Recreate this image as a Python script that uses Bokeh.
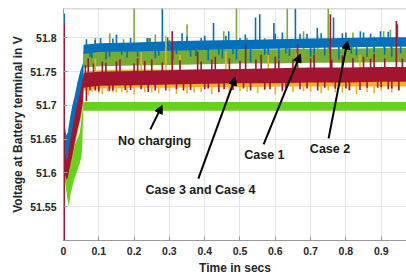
from bokeh.plotting import figure
from bokeh.models import Range1d, Span, Arrow, NormalHead, Label, FixedTicker
from bokeh.embed import file_html
from bokeh.resources import INLINE
import numpy as np

# ---------------- data ----------------
x_ticks = [0, 0.1, 0.2, 0.3, 0.4, 0.5, 0.6, 0.7, 0.8, 0.9]
x_tick_labels = ["0", "0.1", "0.2", "0.3", "0.4", "0.5", "0.6", "0.7", "0.8", "0.9"]
y_ticks = [51.55, 51.6, 51.65, 51.7, 51.75, 51.8]
y_tick_labels = ["51.55", "51.6", "51.65", "51.7", "51.75", "51.8"]

band_t = [0.0, 0.003, 0.008, 0.012, 0.018, 0.025, 0.032, 0.04, 0.047, 0.052, 0.055, 0.057,
          0.1, 0.2, 0.3, 0.4, 0.5, 0.6, 0.7, 0.8, 0.9, 0.975]

case2_lo = [51.64, 51.625, 51.612, 51.61, 51.625, 51.645, 51.665, 51.69, 51.705, 51.715, 51.72, 51.776,
            51.779, 51.780, 51.781, 51.782, 51.783, 51.784, 51.785, 51.786, 51.787, 51.787]
case2_hi = [51.70, 51.672, 51.655, 51.66, 51.68, 51.70, 51.715, 51.735, 51.75, 51.758, 51.762, 51.790,
            51.792, 51.793, 51.795, 51.796, 51.797, 51.798, 51.799, 51.800, 51.801, 51.801]

case1_lo = [51.62, 51.61, 51.60, 51.605, 51.62, 51.64, 51.66, 51.68, 51.70, 51.71, 51.72, 51.756,
            51.758, 51.759, 51.760, 51.761, 51.762, 51.762, 51.763, 51.763, 51.764, 51.764]
case1_hi = [51.65, 51.64, 51.63, 51.635, 51.655, 51.675, 51.695, 51.715, 51.73, 51.74, 51.748, 51.779,
            51.780, 51.781, 51.782, 51.782, 51.783, 51.783, 51.784, 51.784, 51.785, 51.785]

case3_lo = [51.60, 51.595, 51.59, 51.595, 51.605, 51.62, 51.64, 51.66, 51.675, 51.69, 51.70, 51.722,
            51.725, 51.726, 51.726, 51.727, 51.727, 51.728, 51.728, 51.728, 51.728, 51.728]
case3_hi = [51.63, 51.625, 51.62, 51.625, 51.64, 51.66, 51.68, 51.70, 51.715, 51.725, 51.735, 51.750,
            51.752, 51.753, 51.753, 51.754, 51.754, 51.754, 51.755, 51.755, 51.755, 51.755]

case4_lo = [51.61, 51.60, 51.59, 51.593, 51.608, 51.625, 51.645, 51.665, 51.68, 51.695, 51.705, 51.726,
            51.729, 51.730, 51.731, 51.732, 51.733, 51.733, 51.734, 51.734, 51.735, 51.735]
case4_hi = [51.645, 51.632, 51.62, 51.625, 51.645, 51.665, 51.685, 51.705, 51.72, 51.73, 51.74, 51.748,
            51.750, 51.751, 51.752, 51.753, 51.754, 51.755, 51.756, 51.756, 51.757, 51.757]

nochg_t = [0.0, 0.005, 0.01, 0.015, 0.02, 0.03, 0.046, 0.051, 0.053, 0.056, 0.975]
nochg_lo = [51.60, 51.585, 51.565, 51.55, 51.569, 51.59, 51.614, 51.625, 51.64, 51.692, 51.692]
nochg_hi = [51.63, 51.625, 51.615, 51.60, 51.614, 51.639, 51.659, 51.68, 51.69, 51.705, 51.705]

# initial values at t = 0 (vertical start of traces)
case2_start = [51.40, 51.836]
case4_start = [51.40, 51.822]

# spikes (time, tip value)
case2_spk_t = [0.105, 0.15, 0.237, 0.28, 0.336, 0.39, 0.425, 0.468, 0.50, 0.544, 0.556, 0.596, 0.62,
               0.657, 0.69, 0.719, 0.765, 0.80, 0.841, 0.87, 0.898, 0.946,
               0.08, 0.12, 0.18, 0.22, 0.26, 0.31, 0.36, 0.41, 0.45, 0.49, 0.53, 0.58, 0.61, 0.64,
               0.70, 0.74, 0.78, 0.83, 0.86, 0.91, 0.93,
               0.065, 0.075, 0.09, 0.13, 0.14, 0.165, 0.19, 0.21, 0.245, 0.27, 0.295, 0.32, 0.35, 0.375,
               0.40, 0.44, 0.46, 0.48, 0.515, 0.57, 0.60, 0.63, 0.67, 0.71, 0.73, 0.755, 0.79, 0.815,
               0.85, 0.88, 0.92, 0.955]
case2_spk_v = [51.80, 51.805, 51.80, 51.845, 51.807, 51.80, 51.822, 51.81, 51.80, 51.83, 51.835, 51.822, 51.808,
               51.845, 51.806, 51.815, 51.83, 51.808, 51.81, 51.806, 51.81, 51.82,
               51.770, 51.768, 51.771, 51.766, 51.770, 51.768, 51.772, 51.767, 51.770, 51.768, 51.764, 51.771,
               51.768, 51.773, 51.772, 51.774, 51.768, 51.774, 51.772, 51.775, 51.772,
               51.798, 51.772, 51.797, 51.772, 51.799, 51.775, 51.80, 51.772, 51.80, 51.774, 51.801, 51.776,
               51.802, 51.773, 51.803, 51.775, 51.803, 51.776, 51.805, 51.775, 51.806, 51.777, 51.806,
               51.776, 51.807, 51.778, 51.807, 51.777, 51.808, 51.778, 51.809, 51.777]

case1_spk_t = [0.131, 0.2, 0.26, 0.35, 0.454, 0.49, 0.52, 0.634, 0.68, 0.75, 0.82, 0.907, 0.926,
               0.09, 0.17, 0.24, 0.3, 0.4, 0.57, 0.72, 0.88]
case1_spk_v = [51.807, 51.845, 51.805, 51.82, 51.81, 51.845, 51.80, 51.845, 51.81, 51.845, 51.808, 51.81, 51.812,
               51.80, 51.798, 51.80, 51.797, 51.80, 51.80, 51.803, 51.802]

case3_spk_t = [0.09, 0.22, 0.29, 0.33, 0.46, 0.58, 0.66, 0.84,
               0.07, 0.11, 0.15, 0.2, 0.27, 0.32, 0.37, 0.42, 0.47, 0.55, 0.6, 0.65, 0.73, 0.79, 0.83,
               0.88, 0.93,
               0.08, 0.1, 0.125, 0.14, 0.165, 0.18, 0.23, 0.25, 0.3, 0.35, 0.39, 0.44, 0.5, 0.52, 0.57,
               0.62, 0.68, 0.7, 0.75, 0.77, 0.81, 0.86, 0.9, 0.95]
case3_spk_v = [51.77, 51.78, 51.803, 51.775, 51.78, 51.775, 51.778, 51.775,
               51.716, 51.717, 51.719, 51.716, 51.718, 51.717, 51.719, 51.717, 51.718, 51.718, 51.716, 51.72,
               51.718, 51.719, 51.717, 51.718, 51.719,
               51.72, 51.718, 51.721, 51.719, 51.72, 51.718, 51.72, 51.719, 51.721, 51.718, 51.72, 51.719,
               51.721, 51.72, 51.722, 51.72, 51.721, 51.72, 51.722, 51.72, 51.721, 51.72, 51.722, 51.721]

case4_spk_t = [0.07, 0.11, 0.16, 0.21, 0.25, 0.308, 0.38, 0.43, 0.47, 0.516, 0.56, 0.60, 0.663, 0.71,
               0.756, 0.79, 0.85, 0.88, 0.943,
               0.065, 0.09, 0.13, 0.19, 0.24, 0.29, 0.34, 0.40, 0.44, 0.48, 0.53, 0.57, 0.62, 0.67,
               0.72, 0.77, 0.81, 0.84, 0.89, 0.92, 0.95,
               0.062, 0.075, 0.085, 0.1, 0.12, 0.14, 0.15, 0.175, 0.2, 0.22, 0.23, 0.26, 0.28, 0.32,
               0.33, 0.36, 0.39, 0.41, 0.42, 0.455, 0.5, 0.51, 0.545, 0.585, 0.61, 0.63, 0.65, 0.69,
               0.70, 0.74, 0.76, 0.80, 0.82, 0.86, 0.87, 0.9, 0.91, 0.93, 0.96]
case4_spk_v = [51.77, 51.765, 51.768, 51.77, 51.768, 51.81, 51.78, 51.772, 51.77, 51.79, 51.775, 51.772, 51.79,
               51.775, 51.835, 51.774, 51.772, 51.776, 51.825,
               51.706, 51.722, 51.721, 51.723, 51.72, 51.722, 51.722, 51.724, 51.72, 51.723, 51.722,
               51.724, 51.722, 51.724, 51.722, 51.725, 51.723, 51.723, 51.726, 51.724, 51.723,
               51.76, 51.722, 51.762, 51.721, 51.763, 51.722, 51.765, 51.723, 51.762, 51.724, 51.766,
               51.722, 51.764, 51.724, 51.767, 51.723, 51.765, 51.725, 51.768, 51.724, 51.766, 51.725,
               51.768, 51.724, 51.767, 51.726, 51.768, 51.725, 51.77, 51.726, 51.768, 51.725, 51.77,
               51.726, 51.769, 51.727, 51.77, 51.725, 51.769]

# annotations: text, label x, label y, arrow tail (x, y), arrow head (x, y)
notes = [
    ("No charging", 0.258, 51.647, 0.246, 51.6646, 0.2796, 51.700),
    ("Case 3 and Case 4", 0.388, 51.5746, 0.382, 51.5917, 0.487, 51.742),
    ("Case 1", 0.569, 51.6267, 0.567, 51.6423, 0.671, 51.776),
    ("Case 2", 0.755, 51.6348, 0.751, 51.6512, 0.8045, 51.7955),
]

# ---------------- figure ----------------
FONT = "Liberation Sans"
p = figure(width=406, height=277, output_backend="svg", toolbar_location=None,
           x_range=Range1d(0, 0.9717), y_range=Range1d(51.5, 51.8435),
           min_border_left=63, min_border_right=0, min_border_top=8, min_border_bottom=37)
p.background_fill_color = "white"
p.border_fill_color = "white"
p.outline_line_color = None

for ax in (p.xaxis, p.yaxis):
    ax.major_tick_in = 4
    ax.major_tick_out = 0
    ax.minor_tick_line_color = None
    ax.axis_line_color = "#9a9a9a"
    ax.major_tick_line_color = "#9a9a9a"
    ax.major_label_text_font = FONT
    ax.major_label_text_font_style = "bold"
    ax.major_label_text_font_size = "10.5px"
    ax.major_label_text_color = "#262626"
    ax.axis_label_text_font = FONT
    ax.axis_label_text_font_style = "bold"
    ax.axis_label_text_font_size = "12px"
    ax.axis_label_text_color = "#262626"

p.xaxis.ticker = FixedTicker(ticks=x_ticks)
p.xaxis.major_label_overrides = {t: l for t, l in zip(x_ticks, x_tick_labels)}
p.yaxis.ticker = FixedTicker(ticks=y_ticks)
p.yaxis.major_label_overrides = {t: l for t, l in zip(y_ticks, y_tick_labels)}
p.xaxis.axis_label = "Time in secs"
p.yaxis.axis_label = "Voltage at Battery terminal in V"
p.xaxis.major_label_standoff = 6
p.xaxis.axis_label_standoff = 3
p.yaxis.major_label_standoff = 7
p.yaxis.axis_label_standoff = 2

p.xgrid.grid_line_color = "#e4e4e4"
p.ygrid.grid_line_color = "#e4e4e4"
p.xgrid.ticker = FixedTicker(ticks=x_ticks)
p.ygrid.ticker = FixedTicker(ticks=y_ticks)

p.add_layout(Span(location=51.8435, dimension="width", line_color="#b5b5b5", line_width=1.5))

C_BLUE = "#0072BD"
C_OLIVE = "#77AC30"
C_YEL = "#EDB120"
C_RED = "#A2142F"
C_GREEN = "#63D418"

def band(t, lo, hi, color):
    p.varea(x=t, y1=lo, y2=hi, fill_color=color, fill_alpha=1.0)

def spikes(st, sv, t, lo, hi, color, w=1.6):
    mid = np.interp(st, t, (np.array(lo) + np.array(hi)) / 2.0)
    p.segment(x0=st, y0=mid, x1=st, y1=sv, line_color=color, line_width=w)

band(nochg_t, nochg_lo, nochg_hi, C_GREEN)
band(band_t, case1_lo, case1_hi, C_OLIVE)
spikes(case1_spk_t, case1_spk_v, band_t, case1_lo, case1_hi, C_OLIVE)
p.segment(x0=[0.0], y0=[case2_start[0]], x1=[0.0], y1=[case2_start[1]], line_color=C_BLUE, line_width=3)
band(band_t, case2_lo, case2_hi, C_BLUE)
spikes(case2_spk_t, case2_spk_v, band_t, case2_lo, case2_hi, C_BLUE)
band(band_t, case3_lo, case3_hi, C_YEL)
spikes(case3_spk_t, case3_spk_v, band_t, case3_lo, case3_hi, C_YEL)
band(band_t, case4_lo, case4_hi, C_RED)
spikes(case4_spk_t, case4_spk_v, band_t, case4_lo, case4_hi, C_RED)
p.segment(x0=[0.0], y0=[case4_start[0]], x1=[0.0], y1=[case4_start[1]], line_color=C_RED, line_width=3)

for text, lx, ly, x0, y0, x1, y1 in notes:
    p.add_layout(Arrow(end=NormalHead(size=8, fill_color="black", line_color="black", line_width=1),
                       x_start=x0, y_start=y0, x_end=x1, y_end=y1,
                       line_color="black", line_width=2))
    p.add_layout(Label(x=lx, y=ly, text=text, text_align="center", text_baseline="middle",
                       text_font=FONT, text_font_style="bold", text_font_size="12.5px",
                       text_color="#1a1a1a"))

open("out.html", "w").write(file_html(p, INLINE))
